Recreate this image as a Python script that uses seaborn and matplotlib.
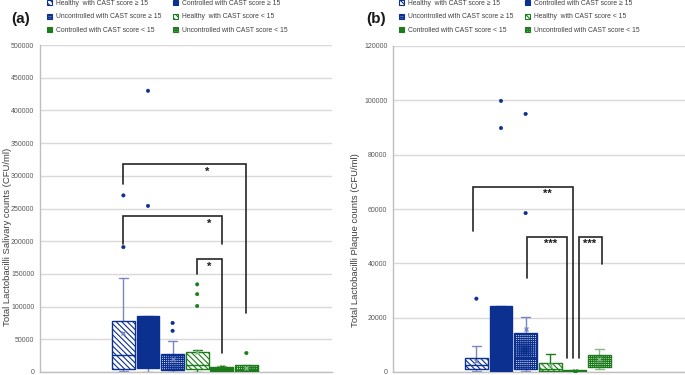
import pandas as pd
import seaborn as sns
import matplotlib.pyplot as plt
from matplotlib.patches import Patch
from matplotlib.ticker import FormatStrFormatter

# grupos (mismo orden en los dos paneles)
groups = ["Healthy  with CAST score \u2265 15", "Controlled with CAST score \u2265 15",
          "Uncontrolled with CAST score \u2265 15", "Healthy  with CAST score < 15",
          "Controlled with CAST score < 15", "Uncontrolled with CAST score < 15"]

# (a) saliva
sal_q1 = [4600, 6000, 3000, 4000, 1500, 500]
sal_med = [26000, 30000, 10000, 10000, 3000, 3000]
sal_q3 = [78000, 86000, 27500, 30000, 7000, 10000]
sal_lo = [1500, 0, 500, 500, 500, 0]
sal_hi = [144000, 86000, 47000, 33000, 9000, 10000]
sal_mean = [60000, 60000, 20000, 30000, 7600, 6000]
sal_out = [[191000, 270000], [430000, 254000], [75000, 63000],
           [134000, 119000, 101000], [], [29000]]

# (b) placa
plq_q1 = [1100, 300, 1100, 300, 100, 1800]
plq_med = [2500, 5000, 5000, 1000, 300, 4000]
plq_q3 = [5200, 24300, 14300, 3300, 700, 6200]
plq_lo = [200, 0, 200, 0, 0, 1000]
plq_hi = [9500, 24300, 20200, 6600, 700, 8300]
plq_mean = [4000, 12000, 15800, 2500, 500, 4700]
plq_out = [[27000], [99800, 89800], [95000, 58500], [], [], []]

# corchetes de significancia: x izq, x der, y arriba, y pie izq, y pie der, texto, x texto, y texto
sal_brackets = [(0, 5, 318000, 287000, 90000, "*", 3.4, 306000),
                (0, 4, 238000, 196000, 196000, "*", 3.47, 226000),
                (3, 4, 173000, 150000, 29000, "*", 3.47, 161000)]
plq_brackets = [(-0.14, 3.92, 68000, 52000, 5100, "**", 2.9, 65500),
                (2.05, 3.68, 49700, 34600, 5100, "***", 3.03, 47000),
                (4.17, 5.1, 49700, 5100, 39800, "***", 4.61, 47000)]

navy = "#0b3090"
green = "#1c7c1c"
navy_l = "#7a88c2"
green_l = "#86b886"
edge = [navy, navy, navy, green, green, green]
light = [navy_l, navy_l, navy_l, green_l, green_l, green_l]
solid = [False, True, False, False, True, False]
hatch = ["\\" * 6, None, "+" * 8, "\\" * 6, None, "+" * 8]

sns.set_theme(style="white")
plt.rcParams['font.family'] = ['Liberation Sans', 'DejaVu Sans']
plt.rcParams['hatch.linewidth'] = 0.8

fig = plt.figure(figsize=(6.85, 3.75), dpi=100)
ax_a = fig.add_axes([40 / 685, 3 / 375, 292 / 685, 327 / 375])
ax_b = fig.add_axes([393 / 685, 3 / 375, 292 / 685, 326 / 375])


def panel(ax, q1, med, q3, lo, hi, mean, out, brackets, ymax, ystep, ylabel, lab_x, lab_y):
    stats = []
    for i in range(len(groups)):
        stats.append(dict(q1=q1[i], med=med[i], q3=q3[i], whislo=lo[i], whishi=hi[i],
                          mean=mean[i], fliers=[], label=groups[i]))
    art = ax.bxp(stats, positions=range(len(groups)), widths=0.93, capwidths=0.37,
                 patch_artist=True, showmeans=True, showfliers=False, manage_ticks=False)
    for i, b in enumerate(art['boxes']):
        b.set_edgecolor(edge[i])
        b.set_linewidth(1.0)
        b.set_facecolor(edge[i] if solid[i] else "white")
        if hatch[i]:
            b.set_hatch(hatch[i])
        b.set_zorder(3)
    for i, m in enumerate(art['medians']):
        m.set_color(edge[i])
        m.set_linewidth(1.0)
        m.set_zorder(4)
    for i in range(len(groups)):
        for w in art['whiskers'][2 * i:2 * i + 2] + art['caps'][2 * i:2 * i + 2]:
            w.set_color(green if i == 3 else light[i])
            w.set_linewidth(1.0)
            w.set_zorder(2)
        mn = art['means'][i]
        mn.set_marker('x')
        mn.set_markeredgecolor(edge[i] if solid[i] else light[i])
        mn.set_markersize(3)
        mn.set_zorder(5)

    # atipicos
    rows = []
    for i, vals in enumerate(out):
        for v in vals:
            rows.append({'x': i, 'y': v, 'fam': 'a' if i < 3 else 'b'})
    df = pd.DataFrame(rows)
    sns.scatterplot(data=df, x='x', y='y', hue='fam', palette={'a': navy, 'b': green},
                    s=6, linewidth=0.4, edgecolor=None, legend=False, ax=ax, zorder=6)

    for xl, xr, yt, yl, yr, txt, tx, ty in brackets:
        ax.plot([xl, xl, xr, xr], [yl, yt, yt, yr], color="#262626", lw=1.2, zorder=7,
                solid_joinstyle='miter')
        ax.text(tx, ty, txt, ha='center', va='center', fontsize=8, fontweight='bold',
                color="#1a1a1a", zorder=8)

    ax.set_xlim(-3.39, 8.48)
    ax.set_ylim(0, ymax)
    ax.set_yticks(range(0, ymax + 1, ystep))
    ax.yaxis.set_major_formatter(FormatStrFormatter('%d'))
    ax.set_xticks([])
    ax.set_xlabel("")
    ax.yaxis.grid(True, color="#d9d9d9", lw=1.0)
    ax.set_axisbelow(True)
    for s in ['top', 'right']:
        ax.spines[s].set_visible(False)
    for s in ['left', 'bottom']:
        ax.spines[s].set_color("#bfbfbf")
        ax.spines[s].set_linewidth(1.0)
    ax.tick_params(axis='y', length=0, pad=4, labelsize=5, labelcolor="#595959")
    ax.set_ylabel(ylabel, fontsize=6.8, color="#404040")
    ax.yaxis.set_label_coords(lab_x, lab_y)


panel(ax_a, sal_q1, sal_med, sal_q3, sal_lo, sal_hi, sal_mean, sal_out, sal_brackets,
      500000, 50000, "Total Lactobacilli Salivary counts (CFU/ml)", -0.097, 0.413)
panel(ax_b, plq_q1, plq_med, plq_q3, plq_lo, plq_hi, plq_mean, plq_out, plq_brackets,
      120000, 20000, "Total Lactobacilli Plaque counts (CFU/ml)", -0.112, 0.405)

# leyendas y etiquetas de panel
handles = []
for i in range(len(groups)):
    handles.append(Patch(facecolor=edge[i] if solid[i] else "white", edgecolor=edge[i],
                         hatch=hatch[i], lw=0.8, label=groups[i]))
order = [0, 2, 4, 1, 3, 5]
for ax, x0, tag, tx in [(ax_a, 47, "(a)", 21), (ax_b, 399, "(b)", 376)]:
    leg = ax.legend([handles[k] for k in order], [groups[k] for k in order], ncol=2,
                    frameon=False, fontsize=4.9, handlelength=0.75, handleheight=0.75,
                    handletextpad=0.5, columnspacing=1.8, labelspacing=0.95,
                    loc='upper left', bbox_to_anchor=(x0 / 685, 1.0),
                    bbox_transform=fig.transFigure, borderaxespad=0, borderpad=0)
    for t in leg.get_texts():
        t.set_color("#404040")
    fig.text(tx / 685, 1 - 19 / 375, tag, fontsize=11, fontweight='bold',
             ha='center', va='center', color="#1a1a1a")

fig.savefig("out.png", dpi=100)
